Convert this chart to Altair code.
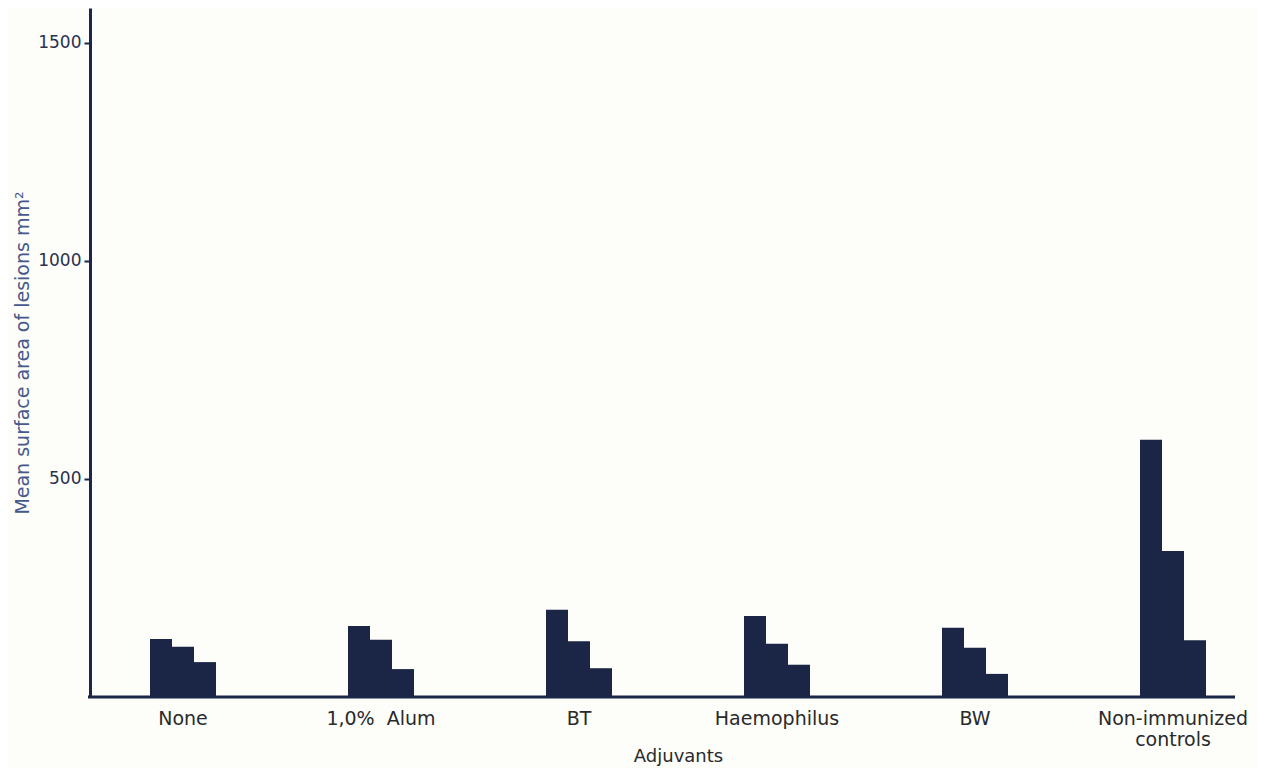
import altair as alt
import pandas as pd

groups = ["None", "1,0%\u00a0 Alum", "BT", "Haemophilus", "BW", "Non-immunized controls"]
series = ["a", "b", "c"]
bar1 = [133, 163, 200, 186, 159, 590]
bar2 = [115, 131, 128, 122, 113, 335]
bar3 = [80, 64, 66, 74, 53, 130]
y_ticks = [500, 1000, 1500]

rows = []
for i, g in enumerate(groups):
    for s, vals in zip(series, [bar1, bar2, bar3]):
        rows.append({"group": g, "series": s, "value": vals[i]})
df = pd.DataFrame(rows)

BAR = "#1b2545"
AXIS = "#1c2748"

x_scale = alt.Scale(domain=groups, range=[-6, 1182], paddingInner=0, paddingOuter=0)
y_scale = alt.Scale(domain=[0, 1580], nice=False, zero=True)

bars = alt.Chart(df).mark_bar(color=BAR).encode(
    x=alt.X("group:N", scale=x_scale, sort=groups,
            axis=alt.Axis(title="Adjuvants", domain=False, ticks=False, labelAngle=0,
                          labelPadding=12, labelFont="DejaVu Sans", labelFontSize=19,
                          labelColor="#2a2a2a", labelLimit=400,
                          labelExpr="datum.label == 'Non-immunized controls' ? ['Non-immunized', 'controls'] : datum.label",
                          titleFont="DejaVu Sans", titleFontSize=18, titleFontWeight="normal",
                          titleColor="#2a2a2a", titleY=50, titleBaseline="top")),
    xOffset=alt.XOffset("series:N", scale=alt.Scale(range=[66, 132], paddingInner=0, paddingOuter=0)),
    y=alt.Y("value:Q", scale=y_scale,
            axis=alt.Axis(title="Mean surface area of lesions mm²", values=y_ticks, grid=False,
                          format="d",
                          domainColor=AXIS, domainWidth=3, tickColor=AXIS, tickWidth=2, tickSize=6,
                          labelPadding=3, labelFont="DejaVu Sans", labelFontSize=17,
                          labelColor="#2b3150",
                          titleFont="DejaVu Sans", titleFontSize=19, titleFontWeight="normal",
                          titleColor="#46598a", titleX=-68, titleBaseline="middle")),
)

base_line = alt.Chart(pd.DataFrame({"v": [0]})).mark_rule(color=AXIS, strokeWidth=3).encode(
    y=alt.Y("v:Q", scale=y_scale),
    x=alt.value(-2),
    x2=alt.value(1145),
)

chart = alt.layer(bars, base_line).properties(
    width=1145,
    height=689,
    autosize=alt.AutoSizeParams(type="none"),
    padding={"left": 82, "top": 0, "right": 22, "bottom": 72},
    background="#fdfdfa",
).configure_view(stroke=None)

chart.save("out.html", embed_options={"renderer": "svg", "actions": False})
